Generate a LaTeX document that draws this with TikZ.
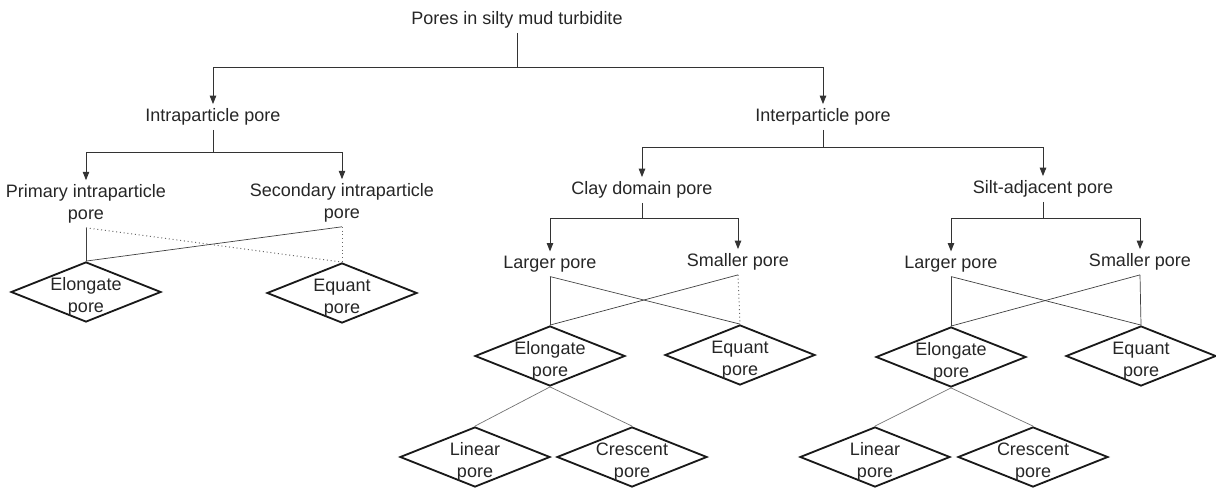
\documentclass[tikz,border=0pt]{standalone}
\usepackage{fontspec}
\setmainfont{Liberation Sans}
\usetikzlibrary{arrows.meta,shapes.geometric}

\begin{document}
\begin{tikzpicture}[x=0.025cm,y=-0.025cm,
    lbl/.style={font=\fontsize{12.8}{15.5}\selectfont, text=black!85, align=center, inner sep=3pt},
    porebox/.style={diamond, draw=black!90, line width=1.3pt, aspect=2.5, inner sep=0pt,
        minimum width=3.75cm, minimum height=1.5cm,
        label={[lbl, yshift=-3.5pt]center:#1}},
    tree/.style={draw=black!80, line width=0.7pt},
    branch/.style={tree, -{Triangle[length=6pt,width=4.6pt]}},
    cross/.style={draw=black!75, line width=0.5pt},
    dots/.style={draw=black!60, line width=0.7pt, dotted},
    leaf/.style={draw=black!55, line width=0.5pt}]
    \useasboundingbox (0,0) rectangle (1216,492);

    %labels of the tree
        \node[lbl] (title) at (517,20) {Pores in silty mud turbidite};
        \node[lbl] (intra) at (213,117) {Intraparticle pore};
        \node[lbl] (inter) at (823,117) {Interparticle pore};
        \node[lbl] (prim) at (86,204) {Primary intraparticle\\pore};
        \node[lbl] (sec) at (342,203) {Secondary intraparticle\\pore};
        \node[lbl] (clay) at (642,190) {Clay domain pore};
        \node[lbl] (silt) at (1043,189) {Silt-adjacent pore};
        \node[lbl] (larger1) at (550,264) {Larger pore};
        \node[lbl] (smaller1) at (738,262) {Smaller pore};
        \node[lbl] (larger2) at (951,264) {Larger pore};
        \node[lbl] (smaller2) at (1140,262) {Smaller pore};

    %pore shapes
        \node[porebox={Elongate\\pore}] (elo0) at (86,292) {};
        \node[porebox={Equant\\pore}] (equ0) at (342,293) {};
        \node[porebox={Elongate\\pore}] (elo1) at (550,356) {};
        \node[porebox={Equant\\pore}] (equ1) at (740,355) {};
        \node[porebox={Linear\\pore}] (lin1) at (475,457) {};
        \node[porebox={Crescent\\pore}] (cre1) at (632,457) {};
        \node[porebox={Elongate\\pore}] (elo2) at (951,357) {};
        \node[porebox={Equant\\pore}] (equ2) at (1141,356) {};
        \node[porebox={Linear\\pore}] (lin2) at (875,457) {};
        \node[porebox={Crescent\\pore}] (cre2) at (1033,457) {};

    %junctions of the branches
        \coordinate (j0) at (517,67);
        \coordinate (j1) at (213,152);
        \coordinate (j2) at (823,147);
        \coordinate (j3) at (642,218);
        \coordinate (j4) at (1043,218);

    %draw branches
        \draw[tree] (title) -- (j0);
        \draw[branch] (j0) -| (intra);
        \draw[branch] (j0) -| (inter);
        \draw[tree] (intra) -- (j1);
        \draw[branch] (j1) -| (prim);
        \draw[branch] (j1) -| (sec);
        \draw[tree] (inter) -- (j2);
        \draw[branch] (j2) -| (clay);
        \draw[branch] (j2) -| (silt);
        \draw[tree] (clay) -- (j3);
        \draw[branch] (j3) -| (larger1);
        \draw[branch] (j3) -| (smaller1);
        \draw[tree] (silt) -- (j4);
        \draw[branch] (j4) -| (larger2);
        \draw[branch] (j4) -| (smaller2);

    %crossing links to the pore shapes
        \draw[cross] (prim.south) -- (elo0.north);
        \draw[dots] (prim.south) -- (equ0.north);
        \draw[cross] (sec.south) -- (elo0.north);
        \draw[dots] (sec.south) -- (equ0.north);

        \draw[cross] (larger1.south) -- (elo1.north);
        \draw[cross] (larger1.south) -- (equ1.north);
        \draw[cross] (smaller1.south) -- (elo1.north);
        \draw[dots] (smaller1.south) -- (equ1.north);

        \draw[cross] (larger2.south) -- (elo2.north);
        \draw[cross] (larger2.south) -- (equ2.north);
        \draw[cross] (smaller2.south) -- (elo2.north);
        \draw[cross] (smaller2.south) -- (equ2.north);

        \draw[leaf] (elo1.south) -- (lin1.north);
        \draw[leaf] (elo1.south) -- (cre1.north);
        \draw[leaf] (elo2.south) -- (lin2.north);
        \draw[leaf] (elo2.south) -- (cre2.north);

\end{tikzpicture}
\end{document}
